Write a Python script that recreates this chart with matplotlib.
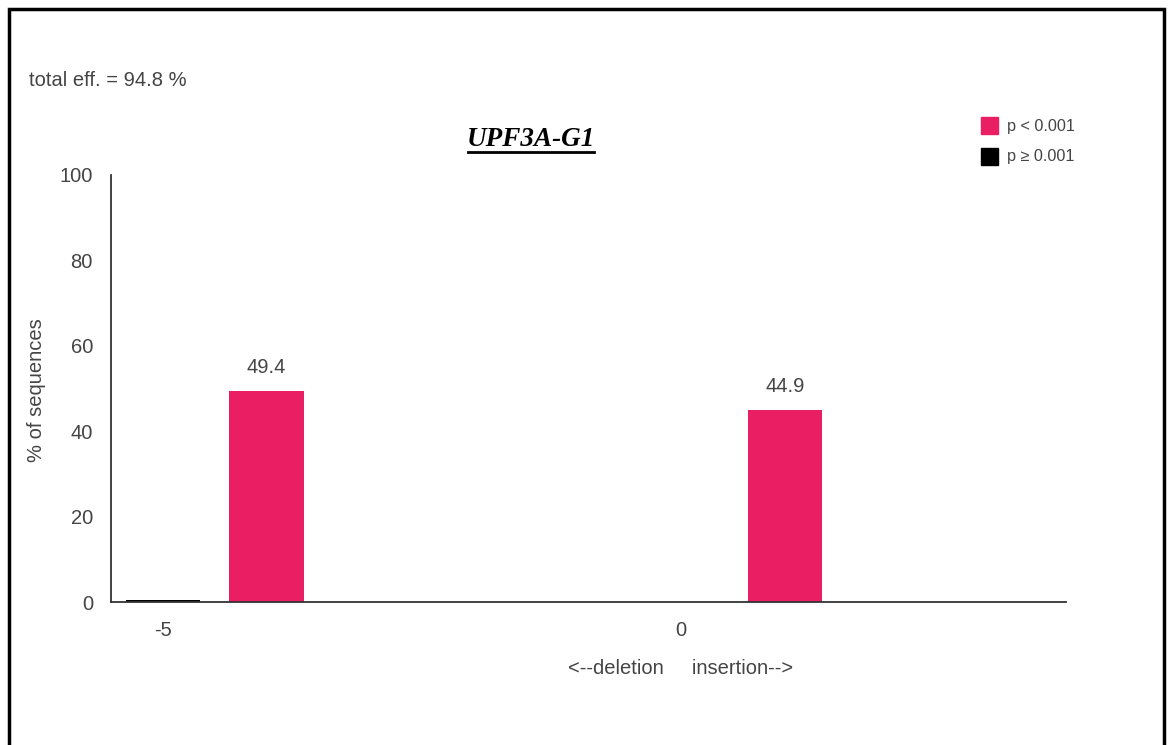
import matplotlib.pyplot as plt
from matplotlib.patches import Rectangle

plt.rcParams["font.family"] = ["Liberation Sans", "DejaVu Sans"]

# indel size groups and the share of sequences in each
indel_sizes = [-5, 0]
signif_vals = [49.4, 44.9]      # p < 0.001
nonsignif_vals = [0.4, 0.0]     # p >= 0.001
total_eff = 94.8
guide_name = "UPF3A-G1"

pink = "#E91E63"
text_grey = "#444444"

fig = plt.figure(figsize=(11.71, 7.45), dpi=100)
ax = fig.add_axes([111 / 1171, 1 - 602 / 745, (1066 - 111) / 1171, (602 - 175) / 745])

bar_w = 0.715
offset = 1.0
ax.bar(indel_sizes, nonsignif_vals, width=bar_w, color="black")
pink_x = [x + offset for x in indel_sizes]
ax.bar(pink_x, signif_vals, width=bar_w, color=pink)
for x, v in zip(pink_x, signif_vals):
    ax.text(x, v + 3.3, f"{v}", ha="center", va="bottom", fontsize=14.5, color=text_grey)

ax.set_xlim(-5.5, 3.71)
ax.set_ylim(0, 100)
ax.set_yticks([0, 20, 40, 60, 80, 100])
ax.set_xticks(indel_sizes)
ax.set_xticklabels([str(x) for x in indel_sizes])
ax.tick_params(axis="both", length=0, labelsize=14.5, labelcolor=text_grey)
ax.tick_params(axis="y", pad=13)
ax.tick_params(axis="x", pad=14)

for side in ["top", "right"]:
    ax.spines[side].set_visible(False)
for side in ["left", "bottom"]:
    ax.spines[side].set_color("#333333")
    ax.spines[side].set_linewidth(1.3)

fig.text(37 / 1171, 1 - 390 / 745, "% of sequences", rotation=90,
         ha="center", va="center", fontsize=14.5, color=text_grey)
fig.text(681 / 1171, 1 - 668 / 745, "<--deletion     insertion-->",
         ha="center", va="center", fontsize=14.5, color=text_grey)
fig.text(29 / 1171, 1 - 81 / 745, f"total eff. = {total_eff} %",
         ha="left", va="center", fontsize=14.5, color=text_grey)

# underlined italic title
fig.text(531 / 1171, 1 - 139 / 745, guide_name, ha="center", va="center",
         fontsize=19.5, fontweight="bold", fontstyle="italic",
         family="Liberation Serif", color="black")
fig.add_artist(plt.Line2D([468 / 1171, 594 / 1171], [1 - 152 / 745] * 2,
                          color="black", linewidth=2))

# legend
legend_items = [(pink, "p < 0.001"), ("black", "p \u2265 0.001")]
for i, (col, lab) in enumerate(legend_items):
    yc = 126 + i * 31
    fig.add_artist(Rectangle((981 / 1171, 1 - (yc + 8) / 745), 17 / 1171, 17 / 745,
                             transform=fig.transFigure, color=col))
    fig.text(1007 / 1171, 1 - yc / 745, lab, ha="left", va="center",
             fontsize=11.7, color=text_grey)

# outer frame
fig.add_artist(Rectangle((9 / 1171, -0.05), (1164 - 9) / 1171, 1.05 - 9 / 745,
                         transform=fig.transFigure, fill=False,
                         edgecolor="black", linewidth=2.5))

fig.savefig("out.png", dpi=100)
